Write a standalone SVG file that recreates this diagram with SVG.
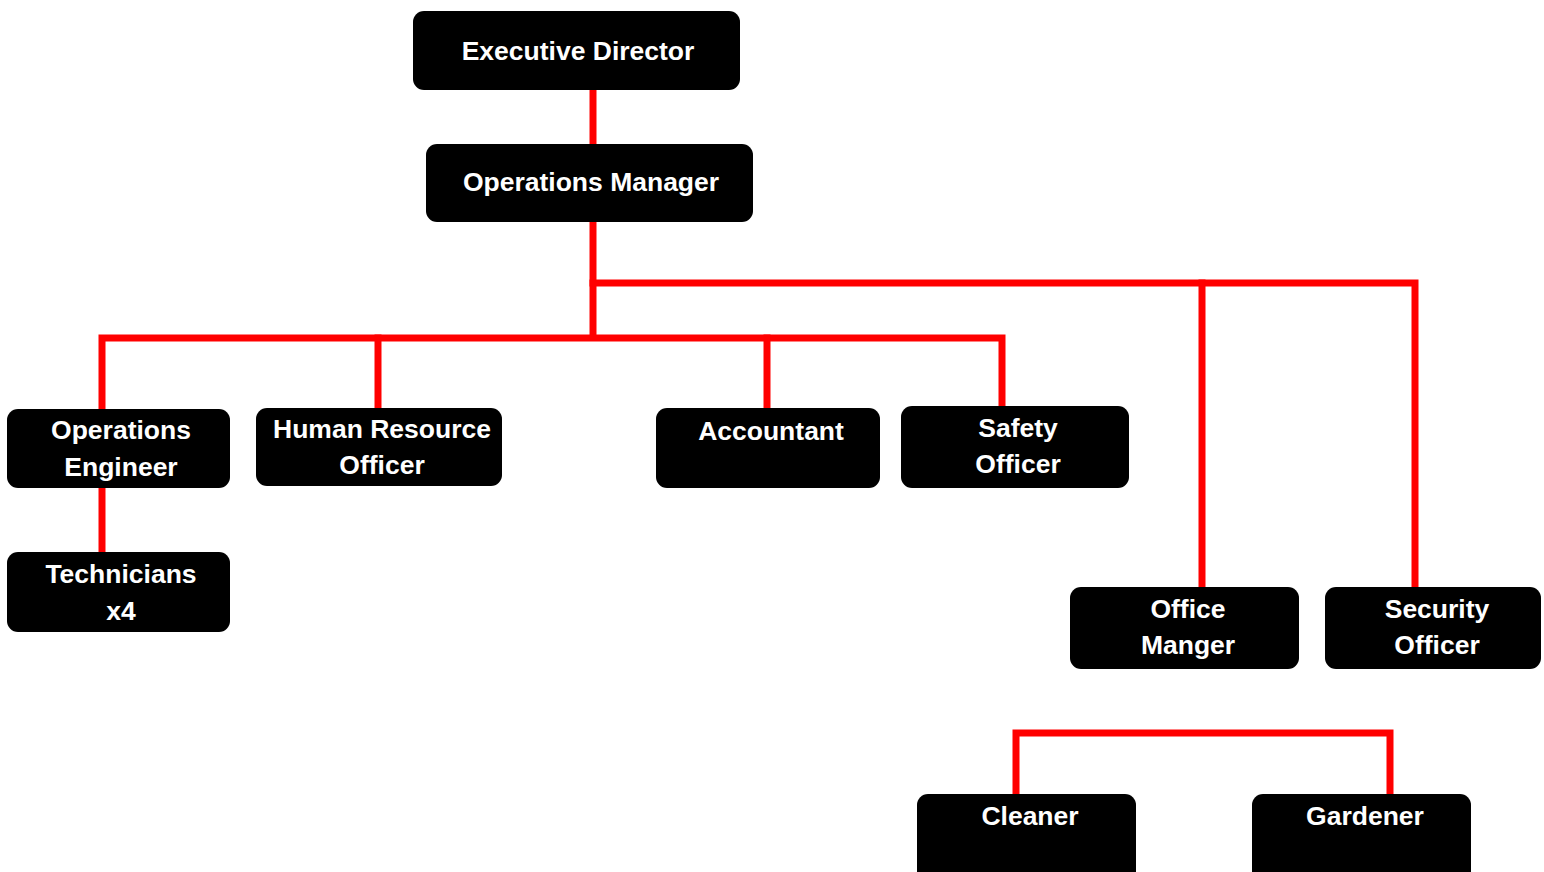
<svg xmlns="http://www.w3.org/2000/svg" width="1544" height="872" viewBox="0 0 1544 872">
<style>
.box{fill:#000;}
.t{fill:#fff;font-family:"Liberation Sans",Arial,sans-serif;font-weight:bold;font-size:26.5px;text-anchor:middle;}
.c{stroke:#ff0000;stroke-width:7;fill:none;stroke-linecap:square;stroke-linejoin:miter;}
</style>
<rect width="1544" height="872" fill="#fff"/>
<g id="connectors">
<path class="c" d="M593,92 V142"/>
<path class="c" d="M593,222 V337"/>
<path class="c" d="M593,283 H1415 V585"/>
<path class="c" d="M1202,283 V585"/>
<path class="c" d="M102,406 V338 H1002 V404"/>
<path class="c" d="M378,338 V406"/>
<path class="c" d="M767,338 V406"/>
<path class="c" d="M102,490 V550"/>
<path class="c" d="M1016,792 V733 H1390 V792"/>
</g>
<g id="executive-director"><rect class="box" x="413" y="11" width="327" height="79" rx="11"/><text class="t" x="578" y="60">Executive Director</text></g>
<g id="operations-manager"><rect class="box" x="426" y="144" width="327" height="78" rx="11"/><text class="t" x="591" y="191">Operations Manager</text></g>
<g id="operations-engineer"><rect class="box" x="7" y="409" width="223" height="79" rx="11"/><text class="t" x="121" y="439">Operations</text><text class="t" x="121" y="476">Engineer</text></g>
<g id="technicians"><rect class="box" x="7" y="552" width="223" height="80" rx="11"/><text class="t" x="121" y="583">Technicians</text><text class="t" x="121" y="620">x4</text></g>
<g id="hr-officer"><rect class="box" x="256" y="408" width="246" height="78" rx="11"/><text class="t" x="382" y="438">Human Resource</text><text class="t" x="382" y="474">Officer</text></g>
<g id="accountant"><rect class="box" x="656" y="408" width="224" height="80" rx="11"/><text class="t" x="771" y="440">Accountant</text></g>
<g id="safety-officer"><rect class="box" x="901" y="406" width="228" height="82" rx="11"/><text class="t" x="1018" y="437">Safety</text><text class="t" x="1018" y="473">Officer</text></g>
<g id="office-manger"><rect class="box" x="1070" y="587" width="229" height="82" rx="11"/><text class="t" x="1188" y="618">Office</text><text class="t" x="1188" y="654">Manger</text></g>
<g id="security-officer"><rect class="box" x="1325" y="587" width="216" height="82" rx="11"/><text class="t" x="1437" y="618">Security</text><text class="t" x="1437" y="654">Officer</text></g>
<g id="cleaner"><rect class="box" x="917" y="794" width="219" height="95" rx="11"/><text class="t" x="1030" y="825">Cleaner</text></g>
<g id="gardener"><rect class="box" x="1252" y="794" width="219" height="95" rx="11"/><text class="t" x="1365" y="825">Gardener</text></g>
</svg>
